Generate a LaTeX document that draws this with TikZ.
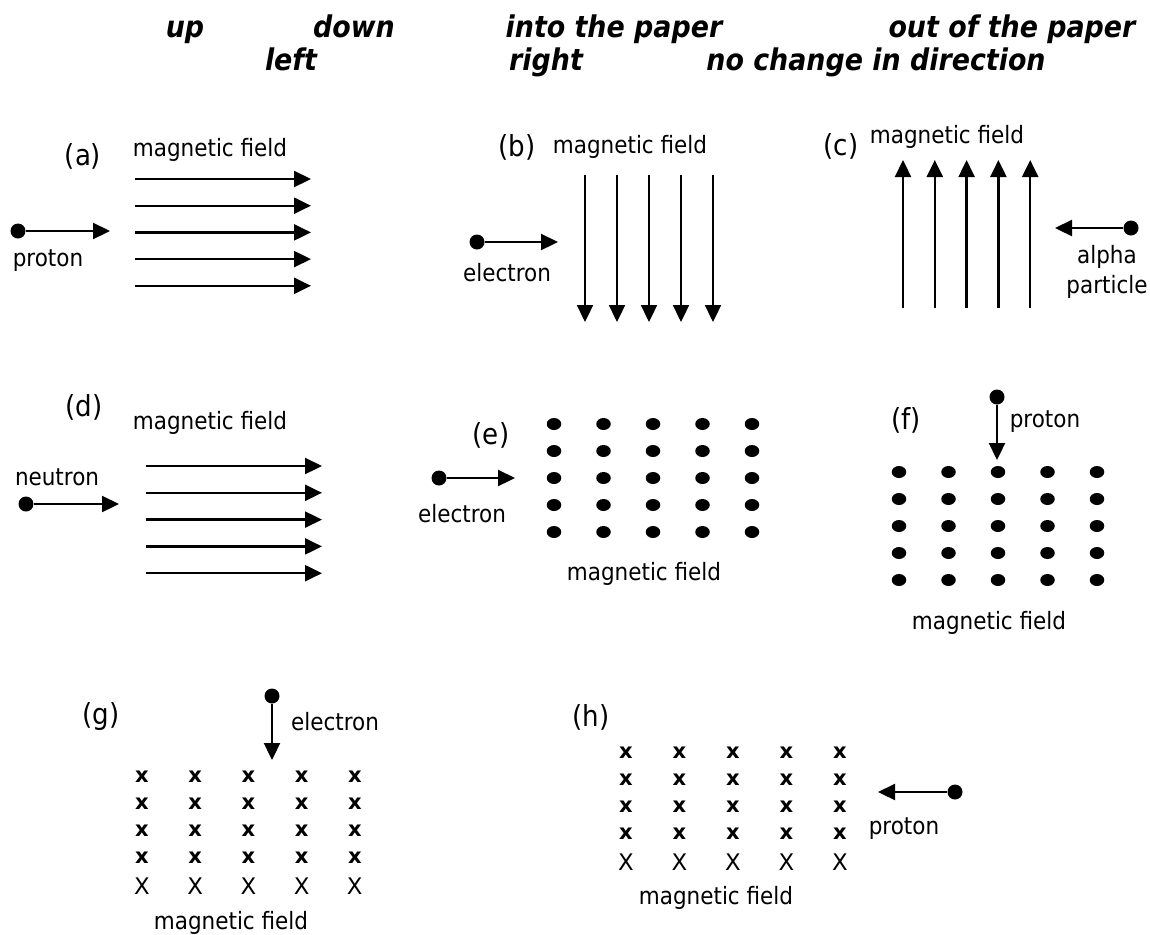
\documentclass[tikz,border=0pt]{standalone}
\usepackage{fontspec}
\setmainfont{DejaVu Sans Condensed}
\newfontfamily\widefont{DejaVu Sans}
\usepackage{tikz}
\usetikzlibrary{arrows.meta}

\tikzset{
  hdr/.style={font=\fontsize{17}{20}\selectfont\bfseries\itshape, inner sep=0pt, anchor=base},
  lbl/.style={font=\fontsize{13.6}{17}\selectfont, inner sep=0pt},
  tag/.style={font=\fontsize{16.5}{19}\selectfont, inner sep=0pt},
  particle/.style={circle, fill=black, inner sep=0pt, minimum size=0.3cm},
  track/.style={line width=1.3pt, -{Triangle[length=0.34cm, width=0.32cm]}},
  xsmall/.style={font=\widefont\fontsize{12}{13}\selectfont\bfseries, inner sep=0pt},
  xbig/.style={font=\widefont\fontsize{13}{14}\selectfont, inner sep=0pt},
}

\begin{document}
\begin{tikzpicture}[x=0.02cm, y=-0.02cm]
        \useasboundingbox (0,0) rectangle (1150,934);

        % choices
        \node[hdr] (h-up)    at (185,37)  {up};
        \node[hdr] (h-down)  at (354,37)  {down};
        \node[hdr] (h-into)  at (614,37)  {into the paper};
        \node[hdr] (h-out)   at (1012,37) {out of the paper};
        \node[hdr] (h-left)  at (291,70)  {left};
        \node[hdr] (h-right) at (546,70)  {right};
        \node[hdr] (h-none)  at (876,70)  {no change in direction};

        % (a)
        \node[tag] (a-tag)   at (83,156)  {(a)};
        \node[lbl] (a-field) at (210,150) {magnetic field};
        \foreach \k in {0,...,4}
            \draw[track] (135,179+26.7*\k) -- (311,179+26.7*\k);
        \node[particle] (a-p) at (18,231) {};
        \coordinate (a-end) at (110,231);
        \draw[track] (a-p) -- (a-end);
        \node[lbl] (a-name) at (48,261) {proton};

        % (b)
        \node[tag] (b-tag)   at (517,147) {(b)};
        \node[lbl] (b-field) at (630,147) {magnetic field};
        \foreach \k in {0,...,4}
            \draw[track] (585+32*\k,175) -- (585+32*\k,322);
        \node[particle] (b-p) at (477,242) {};
        \coordinate (b-end) at (558,242);
        \draw[track] (b-p) -- (b-end);
        \node[lbl] (b-name) at (507,273) {electron};

        % (c)
        \node[tag] (c-tag)   at (841,146) {(c)};
        \node[lbl] (c-field) at (947,137) {magnetic field};
        \foreach \k in {0,...,4}
            \draw[track] (903+31.8*\k,308) -- (903+31.8*\k,160);
        \node[particle] (c-p) at (1131,228) {};
        \coordinate (c-end) at (1055,228);
        \draw[track] (c-p) -- (c-end);
        \node[lbl, align=center] (c-name) at (1107,272) {alpha\\particle};

        % (d)
        \node[tag] (d-tag)   at (84,407)  {(d)};
        \node[lbl] (d-field) at (210,423) {magnetic field};
        \foreach \k in {0,...,4}
            \draw[track] (146,466+26.8*\k) -- (322,466+26.8*\k);
        \node[particle] (d-p) at (26,504) {};
        \coordinate (d-end) at (119,504);
        \draw[track] (d-p) -- (d-end);
        \node[lbl] (d-name) at (57,477) {neutron};

        % (e)
        \node[tag] (e-tag)   at (491,435) {(e)};
        \foreach \i in {0,...,4}
            \foreach \k in {0,...,4}
                \fill (554+49.5*\i,424+27*\k) ellipse [x radius=0.145cm, y radius=0.12cm];
        \node[particle] (e-p) at (439,478) {};
        \coordinate (e-end) at (515,478);
        \draw[track] (e-p) -- (e-end);
        \node[lbl] (e-name)  at (462,514) {electron};
        \node[lbl] (e-field) at (644,574) {magnetic field};

        % (f)
        \node[tag] (f-tag)   at (906,420) {(f)};
        \node[particle] (f-p) at (997,397) {};
        \coordinate (f-end) at (997,460);
        \draw[track] (f-p) -- (f-end);
        \node[lbl] (f-name)  at (1045,422) {proton};
        \foreach \i in {0,...,4}
            \foreach \k in {0,...,4}
                \fill (899+49.5*\i,472+27*\k) ellipse [x radius=0.145cm, y radius=0.12cm];
        \node[lbl] (f-field) at (989,623) {magnetic field};

        % (g)
        \node[tag] (g-tag)   at (101,717) {(g)};
        \node[particle] (g-p) at (272,696) {};
        \coordinate (g-end) at (272,760);
        \draw[track] (g-p) -- (g-end);
        \node[lbl] (g-name)  at (335,722) {electron};
        \foreach \i in {0,...,4} {
            \foreach \k in {0,...,3}
                \node[xsmall] (g-x\i\k) at (142+53.2*\i,777+27*\k) {x};
            \node[xbig] (g-x\i4) at (142+53.2*\i,886) {X};
        }
        \node[lbl] (g-field) at (231,923) {magnetic field};

        % (h)
        \node[tag] (h-tag)   at (591,717) {(h)};
        \foreach \i in {0,...,4} {
            \foreach \k in {0,...,3}
                \node[xsmall] (h-x\i\k) at (626+53.5*\i,753+27*\k) {x};
            \node[xbig] (h-x\i4) at (626+53.5*\i,862) {X};
        }
        \node[particle] (h-p) at (955,792) {};
        \coordinate (h-end) at (878,792);
        \draw[track] (h-p) -- (h-end);
        \node[lbl] (h-name)  at (904,829) {proton};
        \node[lbl] (h-field) at (716,898) {magnetic field};
\end{tikzpicture}
\end{document}
